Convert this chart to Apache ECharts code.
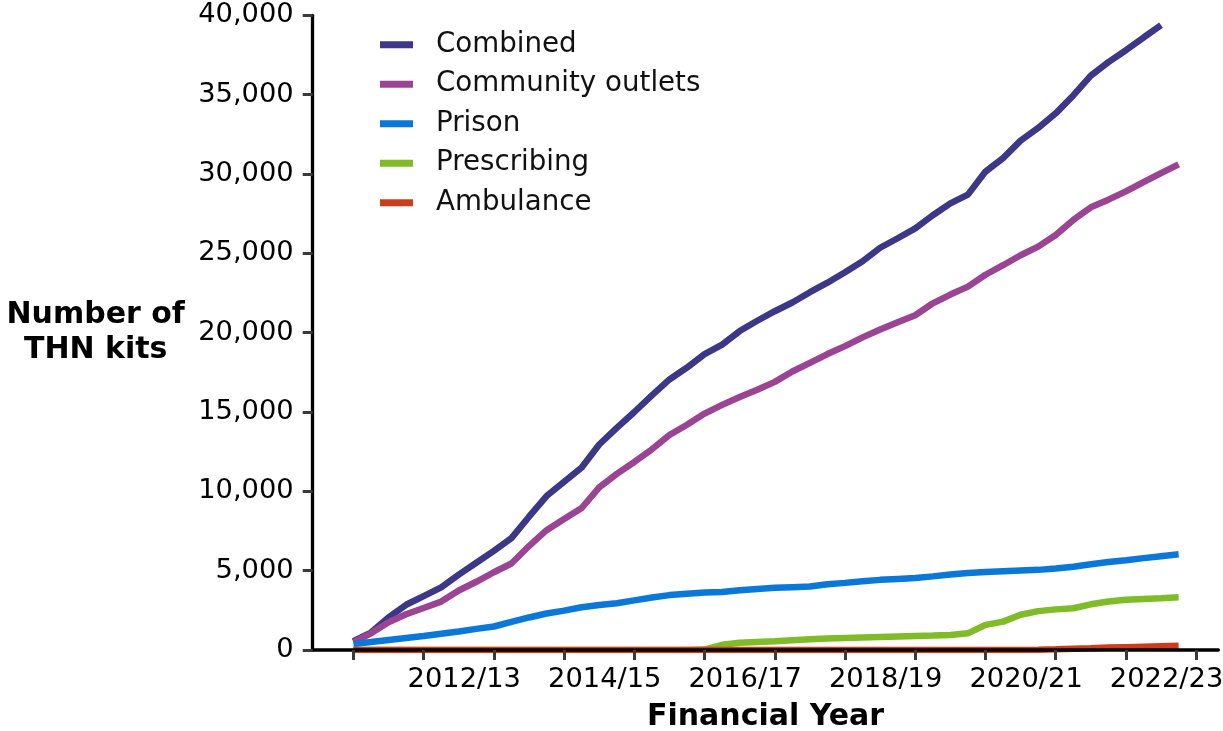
<!DOCTYPE html>
<html>
<head>
<meta charset="utf-8">
<title>Number of THN kits</title>
<script src="https://cdn.jsdelivr.net/npm/echarts@6/dist/echarts.min.js"></script>
<style>
html,body{margin:0;padding:0;background:#fff;}
#chart{width:1223px;height:731px;}
</style>
</head>
<body>
<div id="chart"></div>
<script>
// financial years, each one has 4 quarterly points
var years = ['2011/12','2012/13','2013/14','2014/15','2015/16','2016/17',
             '2017/18','2018/19','2019/20','2020/21','2021/22','2022/23'];
var yearLabels = ['2012/13','2014/15','2016/17','2018/19','2020/21','2022/23'];

// cumulative kits, quarterly
var combined = [550,1100,2050,2850,3400,3950,4750,5500,6250,7050,8400,9700,
                10600,11500,12950,14000,15000,16050,17050,17800,18650,19250,20100,20750,
                21350,21900,22550,23150,23810,24500,25350,25950,26570,27400,28150,28700,
                30150,31000,32100,32900,33820,34950,36200,37050,37800,38600,39380];
var community = [500,1050,1750,2250,2650,3050,3750,4300,4900,5450,6550,7550,
                 8250,8950,10250,11100,11850,12650,13550,14200,14900,15450,15950,16400,
                 16900,17550,18100,18650,19150,19700,20200,20650,21100,21850,22400,22900,
                 23650,24250,24880,25420,26150,27100,27900,28380,28900,29480,30050,30600];
var prison = [380,500,630,760,880,1030,1170,1330,1480,1770,2050,2300,
              2480,2690,2830,2950,3130,3310,3460,3550,3620,3660,3760,3850,
              3920,3960,4000,4140,4230,4330,4420,4480,4540,4640,4760,4850,
              4920,4970,5010,5050,5140,5250,5400,5540,5660,5790,5910,6030];
var prescribing = [0,0,0,0,0,0,0,0,0,0,0,0,
                   0,0,0,0,0,0,0,0,30,330,460,510,
                   550,610,670,730,760,790,820,850,880,910,950,1050,
                   1580,1790,2220,2450,2560,2630,2880,3060,3160,3210,3260,3320];
var ambulance = [0,0,0,0,0,0,0,0,0,0,0,0,
                 0,0,0,0,0,0,0,0,0,0,0,0,
                 0,0,0,0,0,0,0,0,0,0,0,0,
                 0,0,0,10,40,75,110,150,180,210,240,270];

function toPoints(arr){
	var pts=[];
	for(var i=0;i<arr.length;i++){
		pts.push([i,arr[i]]);
	}
	return pts;
}

var tickPos=[];
for(var k=0;k<=years.length;k++){ tickPos.push(k*4); }
var labelPos=[];
for(var j=0;j<yearLabels.length;j++){ labelPos.push(years.indexOf(yearLabels[j])*4+2); }

var font='DejaVu Sans';
var myChart = echarts.init(document.getElementById('chart'));

var option = {
	animation:false,
	textStyle:{fontFamily:font},
	legend:{
		orient:'vertical',
		left:380,
		top:30.7,
		padding:0,
		icon:'rect',
		itemWidth:33,
		itemHeight:7,
		itemGap:11.5,
		textStyle:{fontFamily:font,fontSize:27.7,color:'#111',lineHeight:28,padding:[0,0,0,18]},
		data:['Combined','Community outlets','Prison','Prescribing','Ambulance']
	},
	grid:{left:312.7,top:15.3,width:905.6,height:634.7,containLabel:false,outerBoundsMode:'none'},
	xAxis:{
		type:'value',
		min:-2.32,
		max:49.26,
		z:5,
		name:'Financial Year',
		nameLocation:'middle',
		nameGap:67,
		nameTextStyle:{fontFamily:font,fontSize:30,fontWeight:'bold',color:'#000',verticalAlign:'middle'},
		splitLine:{show:false},
		axisLine:{onZero:false,lineStyle:{color:'#000',width:3.5}},
		axisTick:{show:true,length:10,customValues:tickPos,lineStyle:{color:'#3a3a3a',width:3}},
		axisLabel:{
			customValues:labelPos,
			margin:16,
			fontFamily:font,
			fontSize:27.3,
			color:'#000',
			padding:[0,0,0,11],
			formatter:function(v){ return years[Math.floor(v/4)]; }
		}
	},
	yAxis:{
		type:'value',
		min:0,
		max:40000,
		interval:5000,
		z:5,
		name:'Number of\nTHN kits',
		nameLocation:'middle',
		nameRotate:0,
		nameGap:217,
		nameTextStyle:{fontFamily:font,fontSize:30,fontWeight:'bold',color:'#000',lineHeight:35,align:'center',verticalAlign:'middle',padding:[16,0,0,0]},
		splitLine:{show:false},
		axisLine:{show:true,onZero:false,lineStyle:{color:'#000',width:3.3}},
		axisTick:{show:true,length:10,lineStyle:{color:'#3a3a3a',width:3}},
		axisLabel:{
			margin:19,
			fontFamily:font,
			fontSize:27.3,
			color:'#000',
			padding:[3,0,0,0],
			formatter:function(v){ return v.toLocaleString('en-US'); }
		}
	},
	series:[
		{name:'Combined',type:'line',symbol:'none',color:'#3d3787',lineStyle:{width:6.5,color:'#3d3787'},data:toPoints(combined)},
		{name:'Community outlets',type:'line',symbol:'none',color:'#9a4493',lineStyle:{width:6.5,color:'#9a4493'},data:toPoints(community)},
		{name:'Prison',type:'line',symbol:'none',color:'#0a78d8',lineStyle:{width:6.5,color:'#0a78d8'},data:toPoints(prison)},
		{name:'Prescribing',type:'line',symbol:'none',color:'#80bb28',lineStyle:{width:6.5,color:'#80bb28'},data:toPoints(prescribing)},
		{name:'Ambulance',type:'line',symbol:'none',color:'#cd3c1c',lineStyle:{width:6.5,color:'#cd3c1c'},data:toPoints(ambulance)}
	]
};

myChart.setOption(option);
</script>
</body>
</html>
